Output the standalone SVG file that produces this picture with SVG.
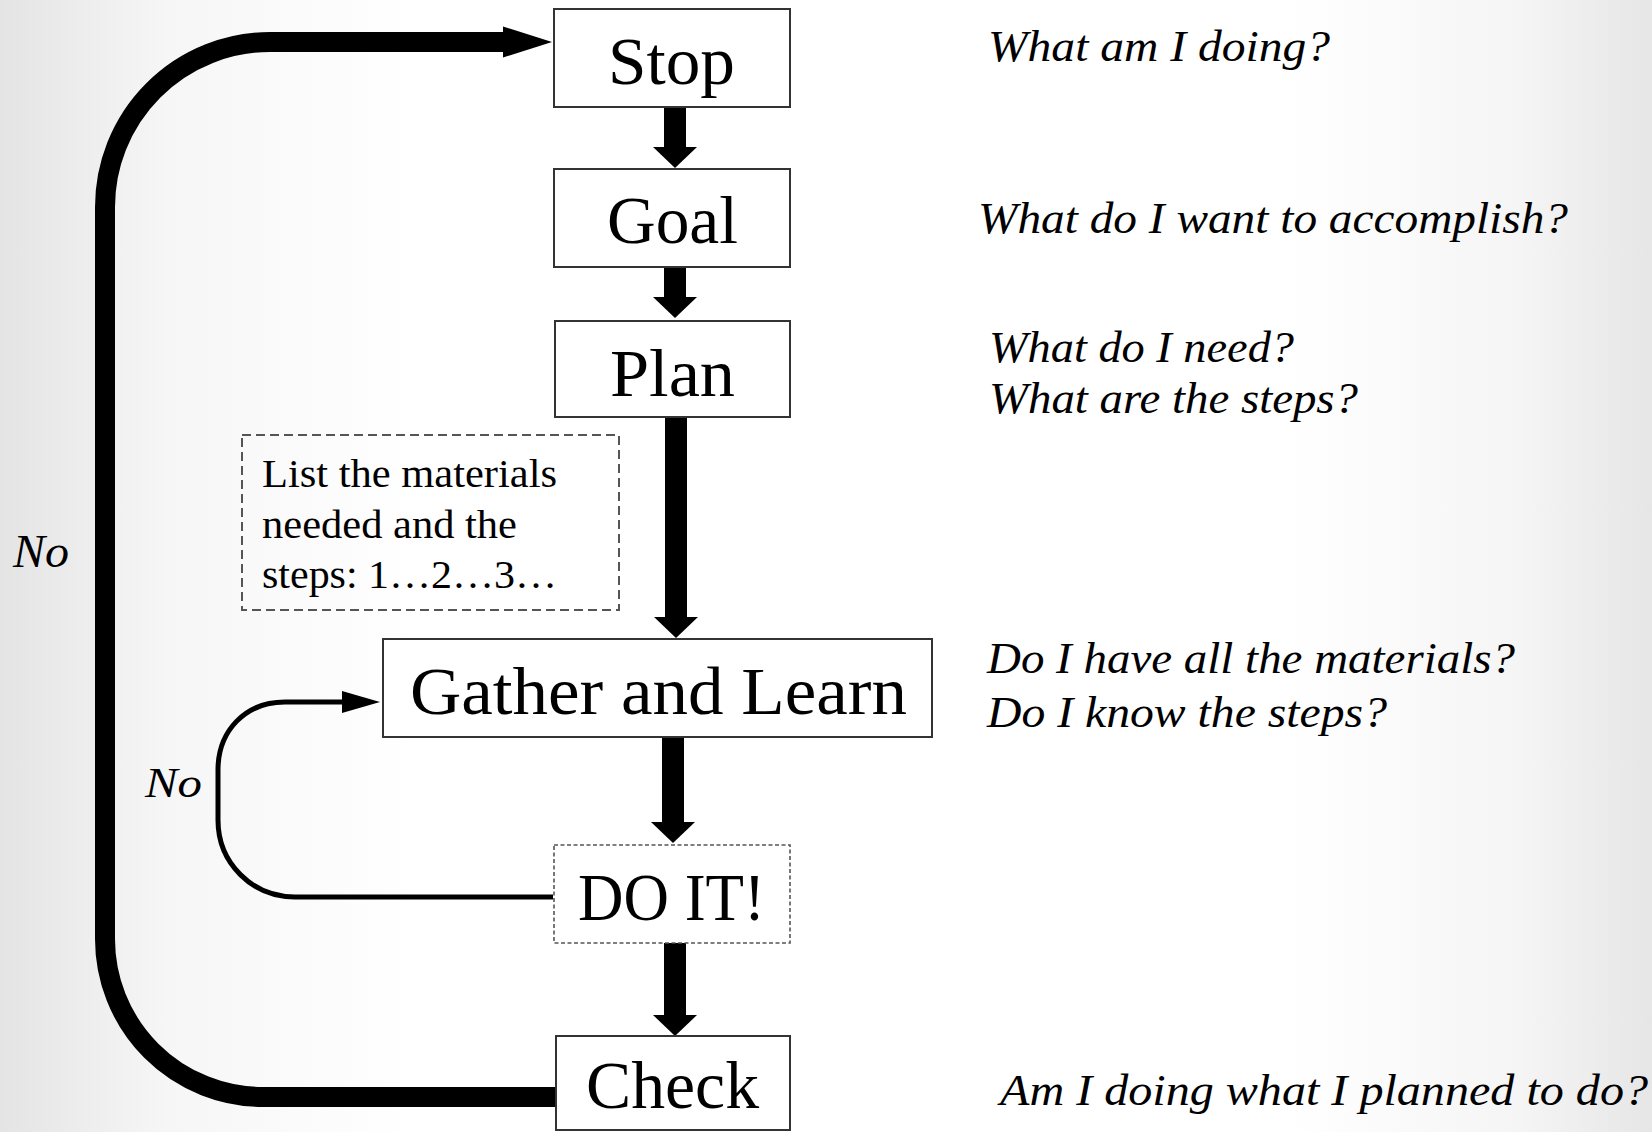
<svg xmlns="http://www.w3.org/2000/svg" width="1652" height="1132" viewBox="0 0 1652 1132">
  <defs>
    <linearGradient id="bg" x1="0" y1="0" x2="1" y2="0">
      <stop offset="0" stop-color="#e4e4e4"/>
      <stop offset="0.1" stop-color="#f6f6f6"/>
      <stop offset="0.25" stop-color="#ffffff"/>
      <stop offset="0.78" stop-color="#ffffff"/>
      <stop offset="0.92" stop-color="#f5f5f5"/>
      <stop offset="1" stop-color="#e6e6e6"/>
    </linearGradient>
    <marker id="bigHead" markerUnits="userSpaceOnUse" markerWidth="24" markerHeight="46" viewBox="0 -23 24 46" refX="0" refY="0" orient="auto" overflow="visible">
      <path d="M0,-22 L21,0 L0,22 Z" fill="#000"/>
    </marker>
    <marker id="loopHead" markerUnits="userSpaceOnUse" markerWidth="50" markerHeight="32" viewBox="0 -16 50 32" refX="0" refY="0" orient="auto" overflow="visible">
      <path d="M0,-15.5 L49,0 L0,15.5 Z" fill="#000"/>
    </marker>
    <marker id="smallHead" markerUnits="userSpaceOnUse" markerWidth="40" markerHeight="24" viewBox="0 -12 40 24" refX="0" refY="0" orient="auto" overflow="visible">
      <path d="M0,-11 L38,0 L0,11 Z" fill="#000"/>
    </marker>
  </defs>
  <style>
    .box { fill: #ffffff; stroke: #333333; stroke-width: 2; }
    .dotbox { fill: #ffffff; stroke: #555555; stroke-width: 1.6; stroke-dasharray: 4 2.5; }
    .note { fill: none; stroke: #555555; stroke-width: 2; stroke-dasharray: 9 5; }
    .lbl { font-family: "Liberation Serif", "Times New Roman", serif; font-size: 67px; fill: #000; }
    .notetxt { font-family: "Liberation Serif", "Times New Roman", serif; font-size: 40px; fill: #000; }
    .q { font-family: "Liberation Serif", "Times New Roman", serif; font-style: italic; font-size: 45px; fill: #000; }
    .no { font-family: "Liberation Serif", "Times New Roman", serif; font-style: italic; fill: #000; }
    .thick { fill: none; stroke: #000; stroke-width: 22; }
    .loop { fill: none; stroke: #000; stroke-width: 20; }
    .thin { fill: none; stroke: #000; stroke-width: 5; }
  </style>

  <rect x="0" y="0" width="1652" height="1132" fill="url(#bg)"/>

  <g id="connectors">
    <path class="thick" d="M675,107 V147" marker-end="url(#bigHead)"/>
    <path class="thick" d="M675,267 V297" marker-end="url(#bigHead)"/>
    <path class="thick" d="M676,417 V617" marker-end="url(#bigHead)"/>
    <path class="thick" d="M673,737 V822" marker-end="url(#bigHead)"/>
    <path class="thick" d="M675,943 V1015" marker-end="url(#bigHead)"/>
    <path class="loop" d="M556,1097 H263 A158,158 0 0 1 105,939 V207 A165,165 0 0 1 270,42 H503" marker-end="url(#loopHead)"/>
    <path class="thin" d="M553,897 H295 C252,897 218,863 218,820 V770 C218,731 245,702 285,702 H342" marker-end="url(#smallHead)"/>
    <text class="no" x="13" y="567" font-size="46" textLength="56" lengthAdjust="spacingAndGlyphs">No</text>
    <text class="no" x="145" y="797" font-size="42" textLength="57" lengthAdjust="spacingAndGlyphs">No</text>
  </g>

  <g id="stop">
    <rect class="box" x="554" y="9" width="236" height="98"/>
    <text class="lbl" x="608" y="84" textLength="127" lengthAdjust="spacingAndGlyphs">Stop</text>
  </g>
  <g id="goal">
    <rect class="box" x="554" y="169" width="236" height="98"/>
    <text class="lbl" x="607" y="243" textLength="131" lengthAdjust="spacingAndGlyphs">Goal</text>
  </g>
  <g id="plan">
    <rect class="box" x="555" y="321" width="235" height="96"/>
    <text class="lbl" x="610" y="396" textLength="125" lengthAdjust="spacingAndGlyphs">Plan</text>
  </g>
  <g id="note">
    <rect class="note" x="242" y="435" width="377" height="175"/>
    <text class="notetxt" x="262" y="487" textLength="295" lengthAdjust="spacingAndGlyphs">List the materials</text>
    <text class="notetxt" x="262" y="538" textLength="255" lengthAdjust="spacingAndGlyphs">needed and the</text>
    <text class="notetxt" x="262" y="588" textLength="295" lengthAdjust="spacingAndGlyphs">steps: 1…2…3…</text>
  </g>
  <g id="gather">
    <rect class="box" x="383" y="639" width="549" height="98"/>
    <text class="lbl" x="410" y="714" textLength="497" lengthAdjust="spacingAndGlyphs">Gather and Learn</text>
  </g>
  <g id="doit">
    <rect class="dotbox" x="554" y="845" width="236" height="98"/>
    <text class="lbl" x="578" y="920" textLength="187" lengthAdjust="spacingAndGlyphs">DO IT!</text>
  </g>
  <g id="check">
    <rect class="box" x="556" y="1036" width="234" height="94"/>
    <text class="lbl" x="586" y="1108" textLength="173" lengthAdjust="spacingAndGlyphs">Check</text>
  </g>

  <g id="questions">
    <text class="q" x="988" y="61" textLength="342" lengthAdjust="spacingAndGlyphs">What am I doing?</text>
    <text class="q" x="978" y="233" textLength="590" lengthAdjust="spacingAndGlyphs">What do I want to accomplish?</text>
    <text class="q" x="989" y="362" textLength="305" lengthAdjust="spacingAndGlyphs">What do I need?</text>
    <text class="q" x="989" y="413" textLength="369" lengthAdjust="spacingAndGlyphs">What are the steps?</text>
    <text class="q" x="987" y="673" textLength="528" lengthAdjust="spacingAndGlyphs">Do I have all the materials?</text>
    <text class="q" x="987" y="727" textLength="400" lengthAdjust="spacingAndGlyphs">Do I know the steps?</text>
    <text class="q" x="1000" y="1105" textLength="648" lengthAdjust="spacingAndGlyphs">Am I doing what I planned to do?</text>
  </g>
</svg>
